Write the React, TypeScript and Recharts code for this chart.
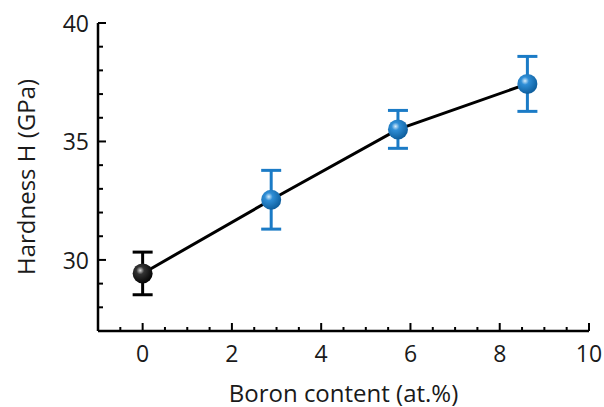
import { ComposedChart, Line, Scatter, ErrorBar, XAxis, YAxis } from 'recharts';

// Boron content (at.%) and measured hardness with error bars
const boronContent = [0, 2.88, 5.72, 8.62];
const hardness = [29.43, 32.54, 35.51, 37.43];
const hardnessErr = [0.9, 1.24, 0.8, 1.16];

const xTicks = [-0.5, 0, 0.5, 1, 1.5, 2, 2.5, 3, 3.5, 4, 4.5, 5, 5.5, 6, 6.5, 7, 7.5, 8, 8.5, 9, 9.5, 10];
const yTicks = [28, 29, 30, 31, 32, 33, 34, 35, 36, 37, 38, 39, 40];

const points = boronContent.map((x, i) => ({ x, y: hardness[i], err: hardnessErr[i] }));
const refPoint = points.slice(0, 1);
const boronPoints = points.slice(1);

const BLUE = '#1b7bc6';
const FONT = '"Open Sans", "Noto Sans", sans-serif';

function XTick({ x, y, payload }: any) {
  const major = payload.value % 2 === 0;
  return (
    <g>
      <line x1={x} x2={x} y1={y} y2={y - (major ? 8 : 4)} stroke="#000" strokeWidth={2} />
      {major && (
        <text x={x} y={y + 22} textAnchor="middle" dominantBaseline="central" fontSize={23} fontFamily={FONT} fill="#1a1a1a">
          {payload.value}
        </text>
      )}
    </g>
  );
}

function YTick({ x, y, payload }: any) {
  const major = payload.value % 5 === 0;
  return (
    <g>
      <line x1={x} x2={x + (major ? 8 : 5)} y1={y} y2={y} stroke="#000" strokeWidth={2} />
      {major && (
        <text x={x - 9} y={y} textAnchor="end" dominantBaseline="central" fontSize={23} fontFamily={FONT} fill="#1a1a1a">
          {payload.value}
        </text>
      )}
    </g>
  );
}

const sphere = (gradId: string) => (props: any) => (
  <circle cx={props.cx} cy={props.cy} r={10} fill={`url(#${gradId})`} />
);

export default function App() {
  return (
    <div style={{ position: 'absolute', left: 0, top: 0, background: '#fff' }}>
      <ComposedChart
        width={604}
        height={407}
        data={points}
        margin={{ top: 23, right: 15, left: 0, bottom: 0 }}
      >
        <defs>
          <radialGradient id="blueBall" cx="0.38" cy="0.35" r="0.7">
            <stop offset="0%" stopColor="#d6ecfb" />
            <stop offset="28%" stopColor="#2f8ed6" />
            <stop offset="100%" stopColor="#0b5a98" />
          </radialGradient>
          <radialGradient id="blackBall" cx="0.38" cy="0.35" r="0.7">
            <stop offset="0%" stopColor="#d8d8d8" />
            <stop offset="28%" stopColor="#333" />
            <stop offset="100%" stopColor="#000" />
          </radialGradient>
        </defs>
        <XAxis
          dataKey="x"
          type="number"
          domain={[-1, 10]}
          ticks={xTicks}
          interval={0}
          height={76}
          tickSize={0}
          tickMargin={0}
          tickLine={false}
          axisLine={{ stroke: '#000', strokeWidth: 2.5 }}
          tick={<XTick />}
          allowDataOverflow
          label={{
            content: ({ viewBox }: any) => (
              <text
                x={viewBox.x + viewBox.width / 2}
                y={viewBox.y + 61}
                textAnchor="middle"
                dominantBaseline="central"
                fontSize={24}
                fontFamily={FONT}
                fill="#1a1a1a"
              >
                Boron content (at.%)
              </text>
            ),
          }}
        />
        <XAxis
          xAxisId="top"
          dataKey="x"
          type="number"
          orientation="top"
          domain={[-1, 10]}
          height={0}
          tick={false}
          tickLine={false}
          axisLine={{ stroke: '#000', strokeWidth: 2.5 }}
        />
        <YAxis
          type="number"
          domain={[27, 40]}
          ticks={yTicks}
          interval={0}
          width={98}
          tickSize={0}
          tickMargin={0}
          tickLine={false}
          axisLine={{ stroke: '#000', strokeWidth: 2.5 }}
          tick={<YTick />}
          allowDataOverflow
          label={{
            content: ({ viewBox }: any) => {
              const cx = viewBox.x + 25;
              const cy = viewBox.y + viewBox.height / 2;
              return (
                <text
                  x={cx}
                  y={cy}
                  transform={`rotate(-90, ${cx}, ${cy})`}
                  textAnchor="middle"
                  dominantBaseline="central"
                  fontSize={24}
                  fontFamily={FONT}
                  fill="#1a1a1a"
                >
                  Hardness H (GPa)
                </text>
              );
            },
          }}
        />
        <YAxis
          yAxisId="right"
          orientation="right"
          type="number"
          domain={[27, 40]}
          width={0}
          tick={false}
          tickLine={false}
          axisLine={{ stroke: '#000', strokeWidth: 2.5 }}
        />
        <Line
          dataKey="y"
          stroke="#000"
          strokeWidth={3}
          dot={false}
          activeDot={false}
          isAnimationActive={false}
        />
        <Scatter data={refPoint} dataKey="y" shape={sphere('blackBall')} isAnimationActive={false}>
          <ErrorBar dataKey="err" direction="y" width={10} stroke="#000" strokeWidth={3} />
        </Scatter>
        <Scatter data={boronPoints} dataKey="y" shape={sphere('blueBall')} isAnimationActive={false}>
          <ErrorBar dataKey="err" direction="y" width={10} stroke={BLUE} strokeWidth={3} />
        </Scatter>
      </ComposedChart>
    </div>
  );
}
